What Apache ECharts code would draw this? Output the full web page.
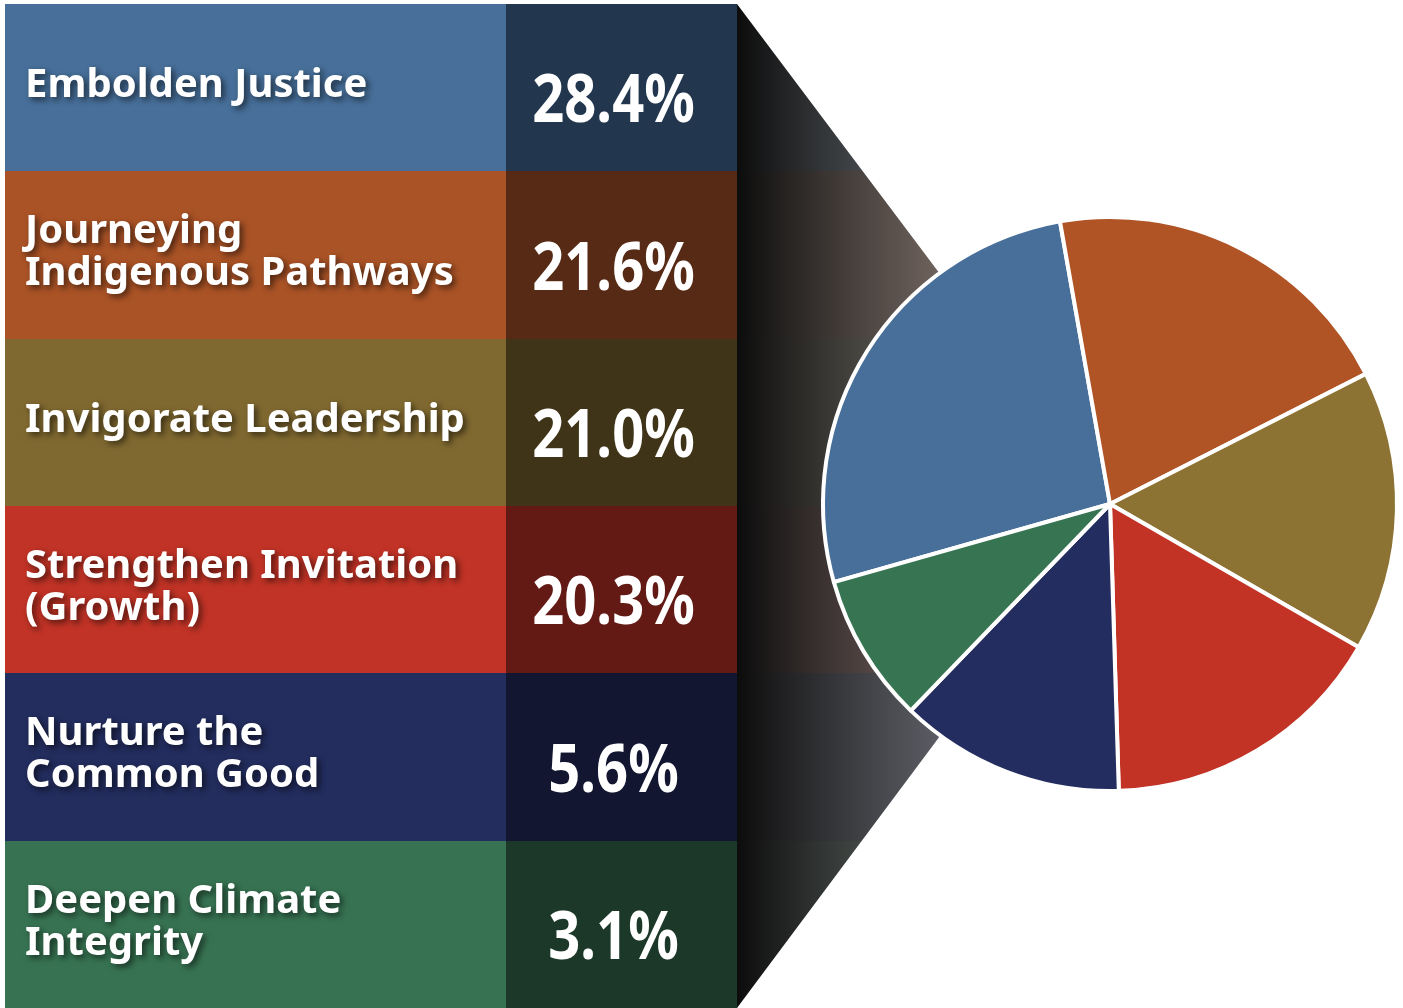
<!DOCTYPE html>
<html>
<head>
<meta charset="utf-8">
<script src="https://cdn.jsdelivr.net/npm/echarts@6/dist/echarts.min.js"></script>
<style>
  html, body { margin: 0; padding: 0; background: #fff; }
  #main { width: 1403px; height: 1008px; }
</style>
</head>
<body>
<div id="main"></div>
<script>
// rows of the table, top to bottom
var categories = ['Embolden Justice', 'Journeying\nIndigenous Pathways', 'Invigorate Leadership',
  'Strengthen Invitation\n(Growth)', 'Nurture the\nCommon Good', 'Deepen Climate\nIntegrity'];
// percentages printed in the table
var tableShares = [28.4, 21.6, 21.0, 20.3, 5.6, 3.1];
var pieShares = [26.6, 20.3, 15.8, 16.2, 12.7, 8.4];

var labelColors = ['#476f99', '#aa5326', '#806930', '#c13326', '#232d5e', '#377352'];
var valueColors = ['#22364d', '#572a15', '#403418', '#631a15', '#121630', '#1c3828'];
var sliceColors = ['#476f99', '#b05426', '#8c7233', '#c23326', '#232d5f', '#377552'];

var chart = echarts.init(document.getElementById('main'), null, { renderer: 'canvas' });

// column split points on the (hidden) x axis, in px from the grid's left edge
var valueColStart = 501;
var valueColEnd = 732;
var rowEnd = 1105;

function renderRow(params, api) {
  var i = api.value(1);
  var c = api.coord([0, i]);
  var band = api.size([0, 1])[1];
  var y0 = Math.round(c[1] - band / 2);
  var h = Math.round(band) + 1;
  var x0 = c[0];
  var xv = api.coord([valueColStart, i])[0];
  var xe = api.coord([valueColEnd, i])[0];
  var xf = api.coord([rowEnd, i])[0];
  return {
    type: 'group',
    children: [
      { type: 'rect', shape: { x: x0, y: y0, width: xv - x0, height: h }, style: { fill: labelColors[i] } },
      { type: 'rect', shape: { x: xv, y: y0, width: xe - xv, height: h }, style: { fill: valueColors[i] } },
      // continues behind the dark funnel
      { type: 'rect', shape: { x: xe, y: y0, width: xf - xe, height: h }, style: { fill: labelColors[i] } },
      {
        type: 'text', x: x0 + 20, y: c[1] - 2,
        style: {
          text: categories[i], fill: '#fff', fontFamily: 'Noto Sans', fontWeight: 'bold',
          fontSize: 40, lineHeight: 42, align: 'left', verticalAlign: 'middle',
          textShadowColor: 'rgba(0,0,0,0.6)', textShadowBlur: 6, textShadowOffsetX: 3, textShadowOffsetY: 3
        }
      },
      {
        type: 'text', x: (xv + xe) / 2 - 8, y: c[1] + 16, scaleX: 0.85,
        style: {
          text: tableShares[i].toFixed(1) + '%', fill: '#fff', fontFamily: 'Noto Sans', fontWeight: 'bold',
          fontSize: 66, align: 'center', verticalAlign: 'middle'
        }
      }
    ]
  };
}

var option = {
  backgroundColor: '#fff',
  animation: false,
  grid: { left: 5, top: 4, width: 1105, height: 1006 },
  xAxis: { type: 'value', min: 0, max: 1105, show: false },
  yAxis: { type: 'category', data: categories, inverse: true, show: false },
  graphic: [
    {
      type: 'rect', z: 5, silent: true,
      shape: { x: 737, y: 4, width: 373, height: 1006 },
      style: {
        fill: new echarts.graphic.LinearGradient(0, 0, 1, 0, [
          { offset: 0, color: 'rgba(12,12,12,1)' },
          { offset: 0.54, color: 'rgba(100,100,100,0.86)' },
          { offset: 1, color: 'rgba(100,100,100,0.86)' }
        ])
      }
    },
    {
      type: 'polygon', z: 6, silent: true,
      shape: { points: [[737, 0], [737, 4], [937, 270], [1110, 504], [1403, 504], [1403, 0]] },
      style: { fill: '#fff' }
    },
    {
      type: 'polygon', z: 6, silent: true,
      shape: { points: [[737, 1008], [937, 740], [1110, 504], [1403, 504], [1403, 1010], [737, 1010]] },
      style: { fill: '#fff' }
    }
  ],
  series: [
    {
      type: 'custom',
      renderItem: renderRow,
      encode: { x: 0, y: 1 },
      data: categories.map(function (c, i) { return [0, i]; }),
      silent: true,
      z: 2
    },
    {
      type: 'pie',
      z: 10,
      center: [1110, 504],
      radius: 287,
      startAngle: 195.8,
      clockwise: true,
      silent: true,
      label: { show: false },
      labelLine: { show: false },
      itemStyle: { borderColor: '#fff', borderWidth: 4 },
      data: pieShares.map(function (v, i) {
        return { name: categories[i].replace('\n', ' '), value: v, itemStyle: { color: sliceColors[i] } };
      })
    }
  ]
};

chart.setOption(option);
</script>
</body>
</html>
